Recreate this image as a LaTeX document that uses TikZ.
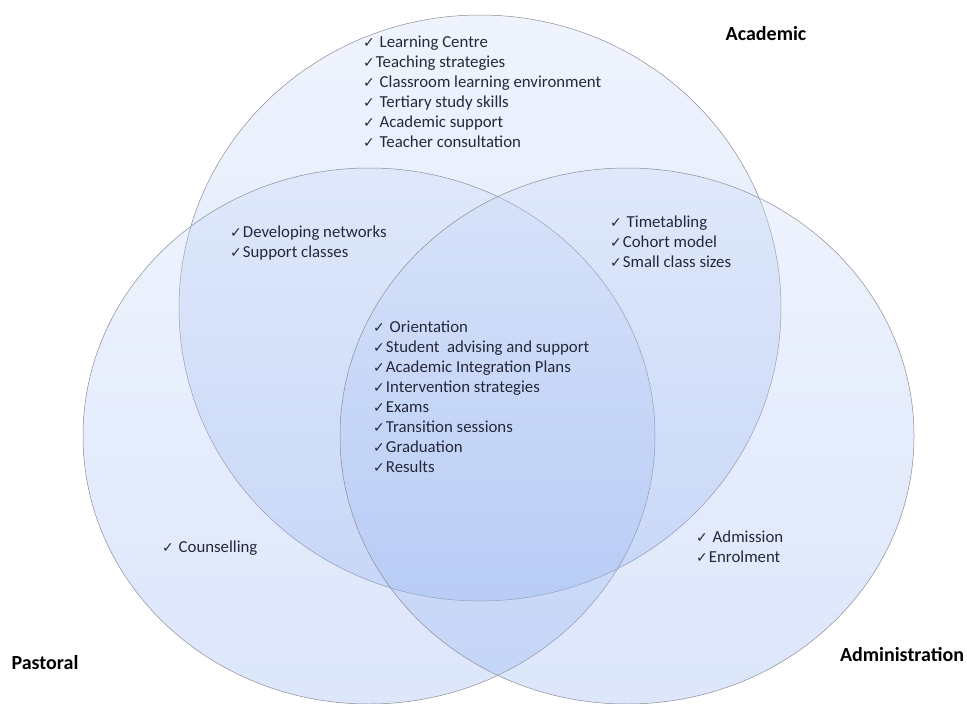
\documentclass[tikz,border=0pt]{standalone}
\usepackage{fontspec}
\setmainfont{Carlito}
\newfontfamily\tickfont{DejaVu Sans}
\usetikzlibrary{shapes.geometric}

\definecolor{ringtop}{RGB}{200,216,248}
\definecolor{ringbottom}{RGB}{140,172,240}
\definecolor{ringline}{RGB}{140,140,150}
\definecolor{itemtext}{RGB}{36,40,58}

% tick in front of every entry
\newcommand{\chk}{{\tickfont\bfseries\fontsize{14}{14}\selectfont ✓}\hspace{1pt}}

\begin{document}
\begin{tikzpicture}[x=1pt, y=-1pt,
    ring/.style={ellipse, draw=ringline, line width=0.5pt, top color=ringtop, bottom color=ringbottom, fill opacity=0.3, inner sep=0pt},
    item/.style={anchor=base west, inner sep=0pt, text=itemtext, font=\fontsize{16.8}{20}\selectfont},
    setname/.style={inner sep=0pt, font=\fontsize{20}{22}\selectfont\bfseries}]

        \useasboundingbox (0,0) rectangle (967,704);

        % Line spacing of the lists
        \def\lstep{20}

        % The three rings
        \node[ring, minimum width=602pt, minimum height=586pt] (acad) at (480,308) {};
        \node[ring, minimum width=572pt, minimum height=536pt] (past) at (369,436) {};
        \node[ring, minimum width=574pt, minimum height=536pt] (admin) at (627,436) {};

        % Names of the rings
        \node[setname] (acadname) at (766,34) {Academic};
        \node[setname] (pastname) at (45,663) {Pastoral};
        \node[setname] (adminname) at (902,655) {Administration};

        % Academic only
        \foreach \txt [count=\i] in {\chk\ Learning Centre, \chk Teaching strategies, \chk\ Classroom learning environment, \chk\ Tertiary study skills, \chk\ Academic support, \chk\ Teacher consultation}
          \node[item] (aca\i) at (363, 47+\i*\lstep-\lstep) {\txt};

        % Academic and Administration
        \foreach \txt [count=\i] in {\chk\ Timetabling, \chk Cohort model, \chk Small class sizes}
          \node[item] (acadm\i) at (610, 227+\i*\lstep-\lstep) {\txt};

        % Academic and Pastoral
        \foreach \txt [count=\i] in {\chk Developing networks, \chk Support classes}
          \node[item] (acpas\i) at (230, 237+\i*\lstep-\lstep) {\txt};

        % All three
        \foreach \txt [count=\i] in {\chk\ Orientation, \chk Student\ \ advising and support, \chk Academic Integration Plans, \chk Intervention strategies, \chk Exams, \chk Transition sessions, \chk Graduation, \chk Results}
          \node[item] (all\i) at (373, 332+\i*\lstep-\lstep) {\txt};

        % Pastoral only
        \node[item] (pas1) at (162,552) {\chk\ Counselling};

        % Administration only
        \foreach \txt [count=\i] in {\chk\ Admission, \chk Enrolment}
          \node[item] (adm\i) at (696, 542+\i*\lstep-\lstep) {\txt};

      \end{tikzpicture}
\end{document}
